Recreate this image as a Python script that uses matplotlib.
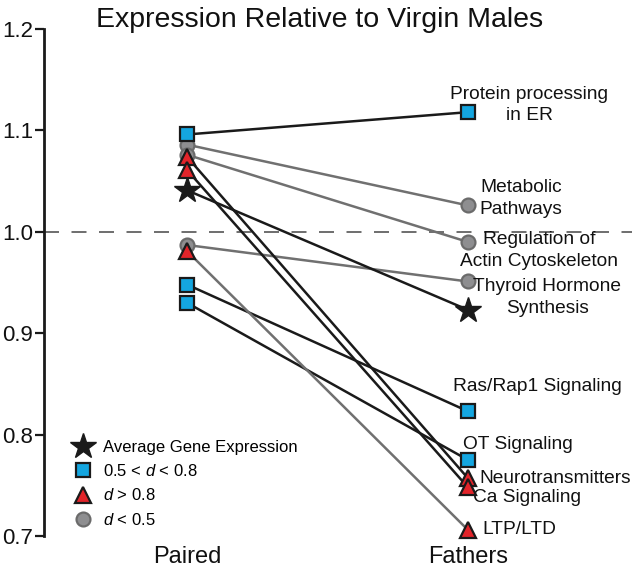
import matplotlib
matplotlib.use('Agg')
import matplotlib.pyplot as plt
from matplotlib.lines import Line2D

plt.rcParams['font.family'] = ['Liberation Sans', 'DejaVu Sans']
plt.rcParams['mathtext.fontset'] = 'custom'
plt.rcParams['mathtext.it'] = 'Liberation Sans:italic'
plt.rcParams['mathtext.rm'] = 'Liberation Sans'

# data
groups = ['Paired', 'Fathers']
pathways = ['Protein processing\nin ER', 'Metabolic\nPathways',
            'Regulation of\nActin Cytoskeleton', 'Thyroid Hormone\nSynthesis',
            '', 'Ras/Rap1 Signaling', 'OT Signaling',
            'Neurotransmitters', 'Ca Signaling', 'LTP/LTD']
paired = [1.096, 1.086, 1.076, 0.987, 1.041, 0.948, 0.930, 1.074, 1.061, 0.981]
fathers = [1.118, 1.026, 0.990, 0.951, 0.923, 0.823, 0.775, 0.757, 0.748, 0.706]
effect = ['mid', 'small', 'small', 'small', 'avg', 'mid', 'mid', 'large', 'large', 'large']
yticks = [0.7, 0.8, 0.9, 1.0, 1.1, 1.2]

# styles
black = '#1a1a1a'
grey = '#707070'
marker_style = {
    'avg':   dict(marker='*', ms=19, mfc=black, mec=black, mew=1, zorder=4),
    'mid':   dict(marker='s', ms=9.5, mfc='#14a6e0', mec=black, mew=1.6, zorder=5),
    'large': dict(marker='^', ms=11, mfc='#e2242a', mec=black, mew=1.6, zorder=4),
    'small': dict(marker='o', ms=10, mfc='#8e8e90', mec='#6b6b6b', mew=1.6, zorder=3),
}
line_col = [black, grey, grey, grey, black, black, black, black, black, grey]
# label offsets (points) and alignment
label_pos = [(44, 5, 'center'), (38, 5, 'center'), (51, -6, 'center'),
             (57, -11.5, 'center'), (0, 0, 'center'), (50, 18, 'center'),
             (36, 11, 'center'), (8, 0, 'left'), (3.5, -7, 'left'),
             (10.5, 0, 'left')]

fig = plt.figure(figsize=(6.32, 5.69), dpi=100)
ax = fig.add_axes([0.0696, 0.058, 0.9304, 0.891])
ax.set_xlim(-0.509, 1.584)
ax.set_ylim(0.7, 1.2)

ax.axhline(1.0, color='#555555', lw=1.2, dashes=(9, 7.5), zorder=1)

xs = [0, 1]
for i in range(len(paired)):
    ax.plot(xs, [paired[i], fathers[i]], color=line_col[i], lw=1.8, zorder=2,
            solid_capstyle='round')
    st = marker_style[effect[i]]
    ax.plot(xs, [paired[i], fathers[i]], ls='none', clip_on=False, **st)
    if pathways[i]:
        dx, dy, ha = label_pos[i]
        ax.annotate(pathways[i], xy=(1, fathers[i]), xytext=(dx, dy),
                    textcoords='offset points', ha=ha, va='center',
                    fontsize=13.8, linespacing=1.35, color='#111111')

for s in ['top', 'right', 'bottom']:
    ax.spines[s].set_visible(False)
ax.spines['left'].set_linewidth(2)
ax.spines['left'].set_color(black)
ax.set_yticks(yticks)
ax.set_yticklabels(['%.1f' % v for v in yticks])
ax.tick_params(axis='y', length=6.5, width=1.6, pad=1.5, labelsize=16,
               color=black, labelcolor='#111111')
ax.set_xticks(xs)
ax.set_xticklabels(groups)
ax.tick_params(axis='x', length=0, pad=7, labelsize=17, labelcolor='#111111')

fig.text(0.506, 0.9525, 'Expression Relative to Virgin Males', ha='center',
         va='baseline', fontsize=20.5, color='#111111')

handles = [Line2D([], [], ls='none', **{k: v for k, v in marker_style[g].items() if k != 'zorder'})
           for g in ['avg', 'mid', 'large', 'small']]
labels = ['Average Gene Expression', r'0.5 < $d$ < 0.8', r'$d$ > 0.8', r'$d$ < 0.5']
ax.legend(handles, labels, loc='upper left', bbox_to_anchor=(0.049, 0.19),
          frameon=False, fontsize=12, handlelength=1.2, handletextpad=0.6,
          borderpad=0, borderaxespad=0, labelspacing=0.5)

fig.savefig('out.png', dpi=100)
